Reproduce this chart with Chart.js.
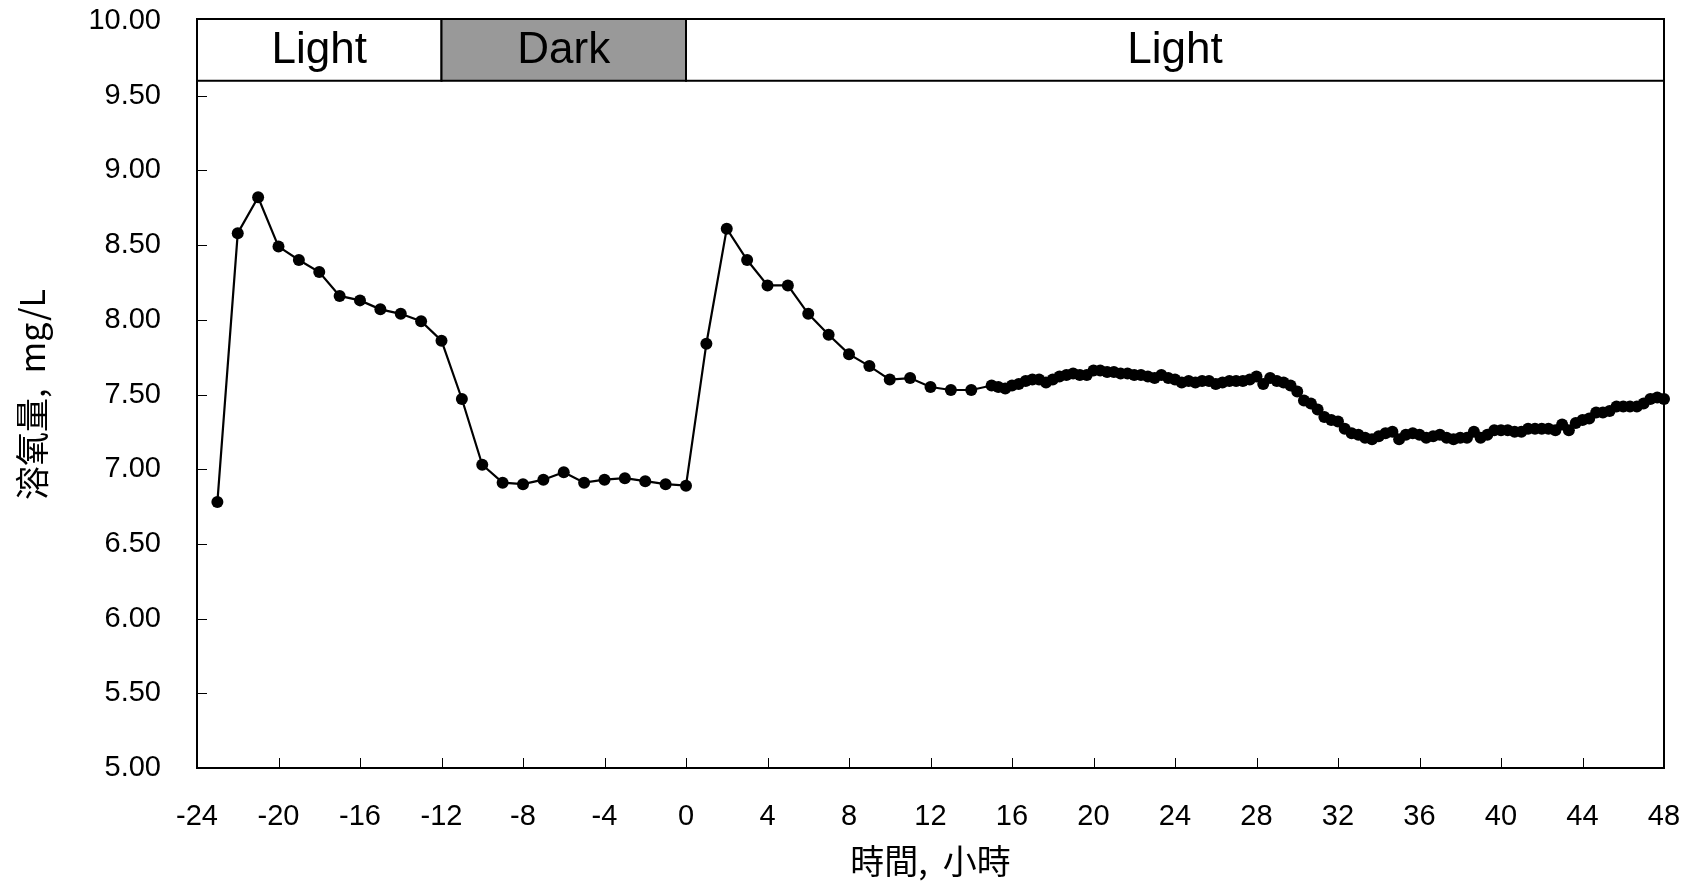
<!DOCTYPE html>
<html>
<head>
<meta charset="utf-8">
<script src="https://cdn.jsdelivr.net/npm/chart.js@4"></script>
<style>
  html, body { margin:0; padding:0; background:#fff; }
  #wrap { width:1693px; height:883px; }
</style>
</head>
<body>
<div id="wrap"><canvas id="doChart" width="1693" height="883"></canvas></div>
<script>
// hours relative to start of the dark period
const hours = [
  -23, -22, -21, -20, -19, -18, -17, -16, -15, -14, -13, -12, -11, -10, -9, -8, -7, -6, -5, -4, -3, -2, -1, 0,
  1, 2, 3, 4, 5, 6, 7, 8, 9, 10, 11, 12, 13, 14,
  15, 15.33, 15.67, 16, 16.33, 16.67, 17, 17.33, 17.67, 18, 18.33, 18.67, 19, 19.33, 19.67,
  20, 20.33, 20.67, 21, 21.33, 21.67, 22, 22.33, 22.67, 23, 23.33, 23.67, 24, 24.33, 24.67,
  25, 25.33, 25.67, 26, 26.33, 26.67, 27, 27.33, 27.67, 28, 28.33, 28.67, 29, 29.33, 29.67,
  30, 30.33, 30.67, 31, 31.33, 31.67, 32, 32.33, 32.67, 33, 33.33, 33.67, 34, 34.33, 34.67,
  35, 35.33, 35.67, 36, 36.33, 36.67, 37, 37.33, 37.67, 38, 38.33, 38.67, 39, 39.33, 39.67,
  40, 40.33, 40.67, 41, 41.33, 41.67, 42, 42.33, 42.67, 43, 43.33, 43.67, 44, 44.33, 44.67,
  45, 45.33, 45.67, 46, 46.33, 46.67, 47, 47.33, 47.67, 48
];
// dissolved oxygen, mg/L
const doValues = [
  6.78, 8.58, 8.82, 8.49, 8.40, 8.32, 8.16, 8.13, 8.07, 8.04, 7.99, 7.86, 7.47, 7.03, 6.91, 6.90, 6.93, 6.98, 6.91, 6.93, 6.94, 6.92, 6.90, 6.89,
  7.84, 8.61, 8.40, 8.23, 8.23, 8.04, 7.90, 7.77, 7.69, 7.60, 7.61, 7.55, 7.53, 7.53,
  7.56, 7.55, 7.54, 7.56, 7.57, 7.59, 7.60, 7.60, 7.58, 7.60, 7.62, 7.63, 7.64, 7.63, 7.63,
  7.66, 7.66, 7.65, 7.65, 7.64, 7.64, 7.63, 7.63, 7.62, 7.61, 7.63, 7.61, 7.60, 7.58, 7.59,
  7.58, 7.59, 7.59, 7.57, 7.58, 7.59, 7.59, 7.59, 7.60, 7.62, 7.57, 7.61, 7.59, 7.58, 7.56,
  7.52, 7.46, 7.44, 7.40, 7.35, 7.33, 7.32, 7.27, 7.24, 7.23, 7.21, 7.20, 7.22, 7.24, 7.25,
  7.20, 7.23, 7.24, 7.23, 7.21, 7.22, 7.23, 7.21, 7.20, 7.21, 7.21, 7.25, 7.21, 7.23, 7.26,
  7.26, 7.26, 7.25, 7.25, 7.27, 7.27, 7.27, 7.27, 7.26, 7.30, 7.26, 7.31, 7.33, 7.34, 7.38,
  7.38, 7.39, 7.42, 7.42, 7.42, 7.42, 7.44, 7.47, 7.48, 7.47
];

// light / dark periods shown across the top
const bandLabels = ['Light', 'Dark', 'Light'];
const bandStart = [-24, -12, 0];
const bandEnd = [-12, 0, 48];
const bandColors = ['#ffffff', '#999999', '#ffffff'];

const numFont = "'Liberation Sans', Arial, sans-serif";
const cjkFont = "'Noto Sans CJK TC', 'Liberation Sans', sans-serif";

// frame, inward tick marks and the light/dark strip
const framePlugin = {
  id: 'framePlugin',
  afterDraw(chart) {
    const { ctx, chartArea: a, scales: { x, y } } = chart;
    ctx.save();
    ctx.strokeStyle = '#000';
    ctx.lineWidth = 1;
    x.ticks.forEach(t => {
      const px = Math.round(x.getPixelForValue(t.value)) + 0.5;
      ctx.beginPath(); ctx.moveTo(px, a.bottom); ctx.lineTo(px, a.bottom - 10); ctx.stroke();
    });
    y.ticks.forEach(t => {
      const py = Math.round(y.getPixelForValue(t.value)) + 0.5;
      ctx.beginPath(); ctx.moveTo(a.left, py); ctx.lineTo(a.left + 10, py); ctx.stroke();
    });

    const top = y.getPixelForValue(10) - 2, bot = y.getPixelForValue(9.6);
    ctx.lineWidth = 2;
    ctx.font = "44px " + numFont;
    ctx.textAlign = 'center';
    ctx.textBaseline = 'middle';
    bandLabels.forEach((lab, i) => {
      const l = x.getPixelForValue(bandStart[i]), r = x.getPixelForValue(bandEnd[i]);
      ctx.fillStyle = bandColors[i];
      ctx.fillRect(l, top, r - l, bot - top);
      ctx.strokeRect(l, top, r - l, bot - top);
      ctx.fillStyle = '#000';
      ctx.fillText(lab, (l + r) / 2, (top + bot) / 2 + 1);
    });

    ctx.lineWidth = 2;
    ctx.strokeRect(a.left, a.top - 2, a.right - a.left, a.bottom - a.top + 2);
    ctx.restore();
  }
};

new Chart(document.getElementById('doChart'), {
  type: 'line',
  data: {
    datasets: [{
      data: hours.map((h, i) => ({ x: h, y: doValues[i] })),
      borderColor: '#000',
      backgroundColor: '#000',
      borderWidth: 2.2,
      pointRadius: 6,
      pointBorderWidth: 0,
      pointBackgroundColor: '#000',
      tension: 0,
      clip: false
    }]
  },
  options: {
    responsive: false,
    animation: false,
    layout: { padding: { left: 0, right: 29, top: 21, bottom: 0 } },
    plugins: { legend: { display: false }, tooltip: { enabled: false } },
    scales: {
      x: {
        type: 'linear',
        min: -24, max: 48,
        afterFit: s => { s.height = 115; s.paddingLeft = 0; s.paddingRight = 0; },
        grid: { display: false, drawTicks: false },
        border: { display: true, color: '#000', width: 2 },
        ticks: { stepSize: 4, padding: 32, color: '#000', font: { family: numFont, size: 29 } },
        title: { display: true, text: '時間,  小時', color: '#000', padding: { top: 0, bottom: 2 }, font: { family: cjkFont, size: 34 } }
      },
      y: {
        min: 5, max: 10,
        afterFit: s => { s.width = 197; s.paddingTop = 0; s.paddingBottom = 0; },
        grid: { display: false, drawTicks: false },
        border: { display: true, color: '#000', width: 2 },
        ticks: { stepSize: 0.5, padding: 36, color: '#000', font: { family: numFont, size: 29 },
          callback: v => v.toFixed(2) },
        title: { display: true, text: '溶氧量,  mg/L', color: '#000', padding: { top: 12, bottom: 0 }, font: { family: cjkFont, size: 34 } }
      }
    }
  },
  plugins: [framePlugin]
});
</script>
</body>
</html>
